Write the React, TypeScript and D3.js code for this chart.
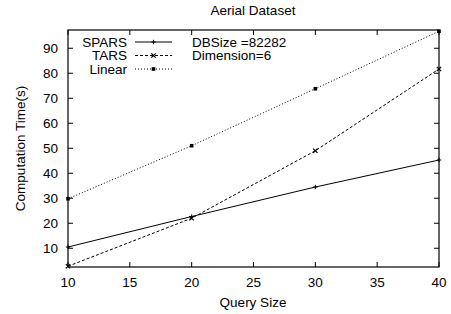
import React from 'react';
import * as d3 from 'd3';

const querySizes = [10, 20, 30, 40];
const sparsTimes = [10.5, 22.7, 34.5, 45.3];
const tarsTimes = [2.8, 22.0, 49.0, 81.7];
const linearTimes = [29.8, 51.0, 73.8, 96.8];

const xTicks = [10, 15, 20, 25, 30, 35, 40];
const yTicks = [10, 20, 30, 40, 50, 60, 70, 80, 90];

const W = 451;
const H = 314;
const m = { left: 68, right: 12, top: 30, bottom: 47 };
const font = '"Liberation Sans", Arial, sans-serif';

type Series = { name: string; values: number[]; dash: string; marker: 'plus' | 'cross' | 'square' };

const series: Series[] = [
  { name: 'SPARS', values: sparsTimes, dash: '', marker: 'plus' },
  { name: 'TARS', values: tarsTimes, dash: '3,2', marker: 'cross' },
  { name: 'Linear', values: linearTimes, dash: '1,2', marker: 'square' },
];

const Marker: React.FC<{ kind: string; x: number; y: number }> = ({ kind, x, y }) => {
  const s = 2.2;
  if (kind === 'plus')
    return <path d={`M${x - s},${y}H${x + s}M${x},${y - s}V${y + s}`} stroke="#000" strokeWidth={1} />;
  if (kind === 'cross')
    return <path d={`M${x - s},${y - s}L${x + s},${y + s}M${x - s},${y + s}L${x + s},${y - s}`} stroke="#000" strokeWidth={1.2} />;
  return <rect x={x - 1.8} y={y - 1.8} width={3.6} height={3.6} fill="#000" />;
};

export default function App() {
  const x = d3.scaleLinear().domain([10, 40]).range([m.left, W - m.right]);
  const y = d3.scaleLinear().domain([2.5, 97.3]).range([H - m.bottom, m.top]);
  const line = d3.line<[number, number]>().x(d => x(d[0])).y(d => y(d[1]));
  const x0 = m.left, x1 = W - m.right, y0 = H - m.bottom, y1 = m.top;
  const tk = 5;

  return (
    <svg width={W} height={H} style={{ position: 'absolute', left: 0, top: 0, background: '#fff' }} fontFamily={font}>
      <text x={253} y={15} fontSize={13.5} textAnchor="middle">Aerial Dataset</text>

      {/* ticks, mirrored like gnuplot */}
      {xTicks.map(t => (
        <g key={'x' + t}>
          <line x1={x(t)} x2={x(t)} y1={y0} y2={y0 - tk} stroke="#000" />
          <line x1={x(t)} x2={x(t)} y1={y1} y2={y1 + tk} stroke="#000" />
          <text x={x(t)} y={282} fontSize={13.5} textAnchor="middle" dy="0.35em">{t}</text>
        </g>
      ))}
      {yTicks.map(t => (
        <g key={'y' + t}>
          <line x1={x0} x2={x0 + tk} y1={y(t)} y2={y(t)} stroke="#000" />
          <line x1={x1} x2={x1 - tk} y1={y(t)} y2={y(t)} stroke="#000" />
          <text x={58} y={y(t)} fontSize={13.5} textAnchor="end" dy="0.35em">{t}</text>
        </g>
      ))}

      {series.map(s => (
        <g key={s.name}>
          <path
            d={line(querySizes.map((q, i) => [q, s.values[i]] as [number, number])) || ''}
            fill="none"
            stroke="#000"
            strokeWidth={1}
            strokeDasharray={s.dash || undefined}
          />
          {querySizes.map((q, i) => (
            <Marker key={q} kind={s.marker} x={x(q)} y={y(s.values[i])} />
          ))}
        </g>
      ))}

      <rect x={x0} y={y1} width={x1 - x0} height={y0 - y1} fill="none" stroke="#000" strokeWidth={1.2} />

      {/* legend */}
      {series.map((s, i) => {
        const ly = 42 + i * 13.5;
        return (
          <g key={'lg' + s.name}>
            <text x={127} y={ly} fontSize={13.5} textAnchor="end" dy="0.35em">{s.name}</text>
            <line x1={135} x2={172} y1={ly} y2={ly} stroke="#000" strokeDasharray={s.dash || undefined} />
            <Marker kind={s.marker} x={153.5} y={ly} />
          </g>
        );
      })}
      <text x={192} y={42} fontSize={13.5} dy="0.35em">DBSize =82282</text>
      <text x={192} y={55.5} fontSize={13.5} dy="0.35em">Dimension=6</text>

      <text x={253} y={302} fontSize={13.5} textAnchor="middle" dy="0.35em">Query Size</text>
      <text
        transform={`translate(20,${(y0 + y1) / 2}) rotate(-90)`}
        fontSize={13.5}
        textAnchor="middle"
        dy="0.35em"
      >
        Computation Time(s)
      </text>
    </svg>
  );
}
